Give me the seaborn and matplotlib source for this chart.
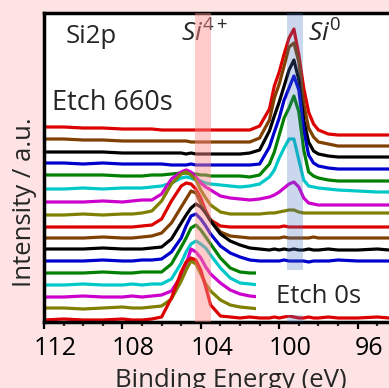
import numpy as np
import pandas as pd
import matplotlib
matplotlib.use("Agg")
import matplotlib.pyplot as plt
import matplotlib.transforms as mtransforms
from matplotlib.patches import Rectangle
from matplotlib.ticker import MultipleLocator
import seaborn as sns

# ---------------- data (stacked intensities, a.u.) ----------------
binding_energy = [112.0, 111.0, 110.0, 109.0, 108.0, 107.5, 107.0, 106.5, 106.0, 105.5,
                  105.0, 104.75, 104.5, 104.25, 104.0, 103.75, 103.5, 103.0, 102.5, 102.0,
                  101.5, 101.0, 100.5, 100.25, 100.0, 99.75, 99.5, 99.25, 99.0, 98.75,
                  98.5, 98.25, 98.0, 97.5, 97.0, 96.0, 95.0, 94.4]

scan_01 = [10,11,10,10,11,10,10,11,13,32,58,68,72,70,60,43,25,14,13,12,13,12,12,13,12,13,14,13,12,12,13,12,12,13,12,12,13,12]
scan_02 = [22,22,21,22,23,22,22,23,24,31,49,60,69,66,56,46,39,30,25,23,22,21,21,22,21,22,21,22,21,21,22,21,21,22,21,21,22,21]
scan_03 = [33,33,34,33,33,34,33,34,35,39,54,66,81,78,72,63,56,47,40,36,34,33,33,34,33,33,34,33,33,33,34,33,33,33,34,33,33,33]
scan_04 = [45,45,46,45,45,46,45,46,46,51,67,78,86,89,86,82,75,62,52,47,46,45,45,45,46,45,45,45,46,45,45,45,45,46,45,45,45,45]
scan_05 = [57,57,57,58,57,57,58,58,58,66,83,92,102,105,100,93,86,72,62,58,57,57,57,57,57,57,57,57,57,57,57,57,57,57,57,57,57,57]
scan_06 = [69,69,69,70,69,69,70,70,71,78,92,104,114,116,111,104,96,84,77,73,70,69,69,69,69,70,69,69,69,69,68,69,69,69,70,69,69,69]
scan_07 = [81,81,81,82,81,81,81,82,83,91,107,115,122,126,123,117,109,96,89,85,82,81,80,81,80,81,80,81,80,80,81,80,80,81,80,80,81,80]
scan_08 = [92,92,92,93,92,92,93,94,97,107,123,131,139,137,127,117,110,98,94,93,92,92,92,92,92,93,92,92,92,92,92,93,92,92,92,92,92,92]
scan_09 = [103,103,103,103,103,103,104,105,111,129,144,147,146,141,132,119,110,104,103,103,103,103,103,103,103,104,103,103,103,103,103,103,103,103,103,103,103,103]
scan_10 = [115,115,116,115,116,116,117,119,129,146,156,158,155,150,140,132,125,118,116,116,116,116,117,117,118,119,120,120,118,117,117,117,117,117,117,117,117,117]
scan_11 = [128,128,128,129,128,129,130,130,136,151,158,160,158,153,147,143,140,134,132,131,130,131,133,135,138,142,146,148,143,132,127,126,125,125,125,125,125,125]
scan_12 = [141,141,142,141,142,142,142,143,144,147,152,153,152,150,149,147,146,145,144,143,144,146,153,160,172,182,191,191,170,150,144,143,142,141,140,139,138,138]
scan_13 = [155,155,155,155,154,154,154,155,155,156,157,157,156,156,155,155,154,154,154,154,153,155,166,178,195,212,222,234,218,180,158,154,152,150,149,149,149,149]
scan_14 = [167,167,166,167,166,166,166,166,166,165,165,165,166,165,165,165,165,165,165,165,165,166,183,198,212,230,242,254,240,200,175,167,164,162,161,161,161,161]
scan_15 = [178,178,178,178,177,177,177,177,177,177,177,176,177,176,176,176,176,176,176,176,177,180,199,214,228,244,260,270,250,210,188,179,176,174,173,173,173,173]
scan_16 = [191,191,190,190,189,189,189,189,189,189,189,189,188,188,188,188,188,188,188,188,188,192,210,232,246,264,283,287,268,226,202,193,188,186,184,184,184,184]
scan_17 = [203,203,202,202,201,201,201,201,200,200,200,200,200,200,200,200,200,200,200,200,200,204,221,244,258,276,292,301,275,242,218,206,200,196,195,195,195,195]

scans = [scan_01, scan_02, scan_03, scan_04, scan_05, scan_06, scan_07, scan_08, scan_09,
         scan_10, scan_11, scan_12, scan_13, scan_14, scan_15, scan_16, scan_17]

color_cycle = ['#dd0000', '#808000', '#cc00cc', '#00c8c8', '#008000', '#0000cc', '#000000', '#804000']

x_ticks = [112, 108, 104, 100, 96]
x_tick_labels = ['112', '108', '104', '100', '96']
band_si4 = (104.28, 103.47)
band_si0 = (99.60, 98.79)

# ---------------- figure ----------------
sns.set_theme(style="white")
plt.rcParams['font.family'] = ['Open Sans', 'DejaVu Sans']
plt.rcParams['mathtext.fontset'] = 'custom'
plt.rcParams['mathtext.rm'] = 'Open Sans'
plt.rcParams['mathtext.it'] = 'Open Sans:italic'

W, H = 389, 388
fig = plt.figure(figsize=(W / 100, H / 100), dpi=100, facecolor='#fde3e3')
ax = fig.add_axes([44 / W, 1 - 322 / H, 1 - 44 / W, (322 - 13) / H])
ax.set_facecolor('white')

rows = []
for i, vals in enumerate(scans):
    for be, v in zip(binding_energy, vals):
        rows.append((be, v, i))
df = pd.DataFrame(rows, columns=['BE', 'Intensity', 'scan'])

for i in reversed(range(len(scans))):
    sns.lineplot(data=df[df['scan'] == i], x='BE', y='Intensity', color=color_cycle[i % 8],
                 lw=2.3, sort=False, estimator=None, ax=ax, legend=False, zorder=2,
                 solid_joinstyle='round')

ax.set_xlim(112, 94.4)
ax.set_ylim(8, 317)

# bands
ax.axvspan(*band_si4, color='#ff8c8c', alpha=0.45, lw=0, zorder=3)
ax.axvspan(*band_si0, color='#4670be', alpha=0.28, lw=0, zorder=3)

# white box behind "Etch 0s"
ax.add_patch(Rectangle(((256 - 44) / 345, (322 - 315) / 309), 1.0, (315 - 270) / 309,
                       transform=ax.transAxes, facecolor='white', edgecolor='none', zorder=5))

# spines and ticks
for s in ['left', 'top', 'bottom']:
    ax.spines[s].set_visible(True)
    ax.spines[s].set_linewidth(2.5)
    ax.spines[s].set_color('black')
ax.spines['right'].set_visible(False)

ax.set_xticks(x_ticks)
ax.set_xticklabels(x_tick_labels)
ax.xaxis.set_minor_locator(MultipleLocator(1))
ax.tick_params(axis='x', which='major', direction='out', length=5, width=1.6,
               labelsize=18, pad=5, colors='black', bottom=True, top=False)
ax.tick_params(axis='x', which='minor', direction='out', length=3, width=1.6,
               bottom=True, top=False)
ax.set_yticks([])
ax.set_xlabel('')
ax.set_ylabel('')
offset = mtransforms.ScaledTranslation(11 / 100, 0, fig.dpi_scale_trans)
for t in ax.xaxis.get_major_ticks():
    t.label1.set_transform(t.label1.get_transform() + offset)

# labels
fig.text(231 / W, 1 - 387 / H, 'Binding Energy (eV)', ha='center', va='baseline', fontsize=18.5)
fig.text(25 / W, 1 - 202 / H, 'Intensity / a.u.', rotation=90, ha='center', va='center', fontsize=18.5)

def axfrac(px, py):
    return (px - 44) / 345, (322 - py) / 309

tr = ax.transAxes
ax.text(*axfrac(66, 43), 'Si2p', ha='left', va='baseline', fontsize=18.5, zorder=2, transform=tr)
ax.text(*axfrac(52, 110), 'Etch 660s', ha='left', va='baseline', fontsize=19.5, zorder=2, transform=tr)
ax.text(*axfrac(181, 42), r'$Si^{4+}$', ha='left', va='baseline', fontsize=19, zorder=2, transform=tr)
ax.text(*axfrac(308, 42), r'$Si^{0}$', ha='left', va='baseline', fontsize=19, zorder=2, transform=tr)
ax.text(*axfrac(276, 303), 'Etch 0s', ha='left', va='baseline', fontsize=18.5, zorder=6, transform=tr)

fig.savefig('out.png', dpi=100, facecolor=fig.get_facecolor())
